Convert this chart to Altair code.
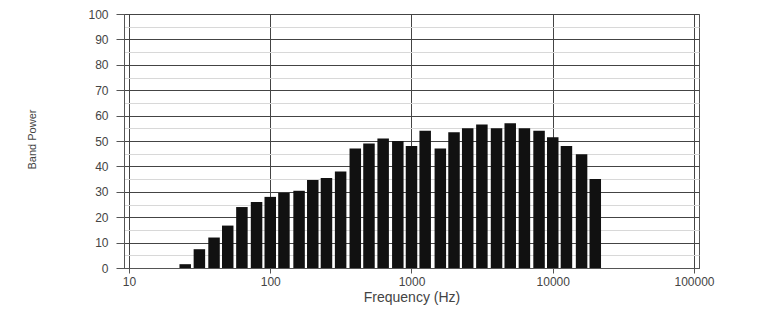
import altair as alt
import pandas as pd

# 1/3-octave band centre frequencies (Hz)
freqs = [20, 25, 31.5, 40, 50, 63, 80, 100, 125, 160, 200, 250, 315, 400, 500,
         630, 800, 1000, 1250, 1600, 2000, 2500, 3150, 4000, 5000, 6300, 8000,
         10000, 12500, 16000, 20000]
# band power
power = [0, 1.5, 7.4, 12, 16.7, 24, 26, 28, 29.6, 30.4, 34.6, 35.4, 38, 47, 49,
         51, 50, 48, 54, 47, 53.4, 55, 56.5, 55, 57, 55, 54,
         51.5, 48, 44.8, 35]

x_ticks = [10, 100, 1000, 10000, 100000]
y_ticks = [0, 10, 20, 30, 40, 50, 60, 70, 80, 90, 100]
y_minor = [5, 15, 25, 35, 45, 55, 65, 75, 85, 95]

df = pd.DataFrame({"freq": freqs, "power": power})

FONT = "Liberation Sans"

x_enc = alt.X(
    "freq:Q",
    scale=alt.Scale(type="log", domain=[10, 100000], nice=False),
    axis=alt.Axis(
        values=x_ticks, format="d", title="Frequency (Hz)",
        grid=True, gridColor="#444", gridWidth=1,
        tickSize=5, tickColor="#555", labelPadding=3,
        domainColor="#555", labelColor="#444", labelFontSize=12,
        labelFont=FONT, titleFont=FONT, titleFontSize=14,
        titleFontWeight="normal", titleColor="#444", titlePadding=3,
    ),
)

bars = alt.Chart(df).mark_bar(size=11.5, color="#111").encode(
    x=x_enc,
    y=alt.Y(
        "power:Q",
        scale=alt.Scale(domain=[0, 100], nice=False),
        axis=alt.Axis(
            values=y_ticks, title="Band Power", grid=True,
            gridColor="#444", gridWidth=1,
            tickSize=8, tickColor="#555", labelPadding=8,
            domainColor="#555", labelColor="#444", labelFontSize=12,
            labelFont=FONT, titleFont=FONT, titleFontSize=11,
            titleFontWeight="normal", titleColor="#444",
            titleX=-87, titleY=125,
        ),
    ),
)

minor = alt.Chart(df).mark_bar(size=11.5, opacity=0).encode(
    x=x_enc,
    y=alt.Y(
        "power:Q",
        scale=alt.Scale(domain=[0, 100], nice=False),
        axis=alt.Axis(
            values=y_minor, title=None, grid=True, gridColor="#d8d8d8",
            gridWidth=1, labels=False, ticks=False, domain=False,
            orient="right",
        ),
    ),
)

chart = (
    alt.layer(minor, bars)
    .resolve_axis(y="independent")
    .properties(
        width=575, height=254,
        padding={"left": 116, "top": 6, "right": 76, "bottom": 47},
        autosize=alt.AutoSizeParams(type="none"),
        background="white",
    )
    .configure_view(stroke="#555", strokeWidth=1)
)

chart.save("out.html", embed_options={"renderer": "svg", "actions": False})
